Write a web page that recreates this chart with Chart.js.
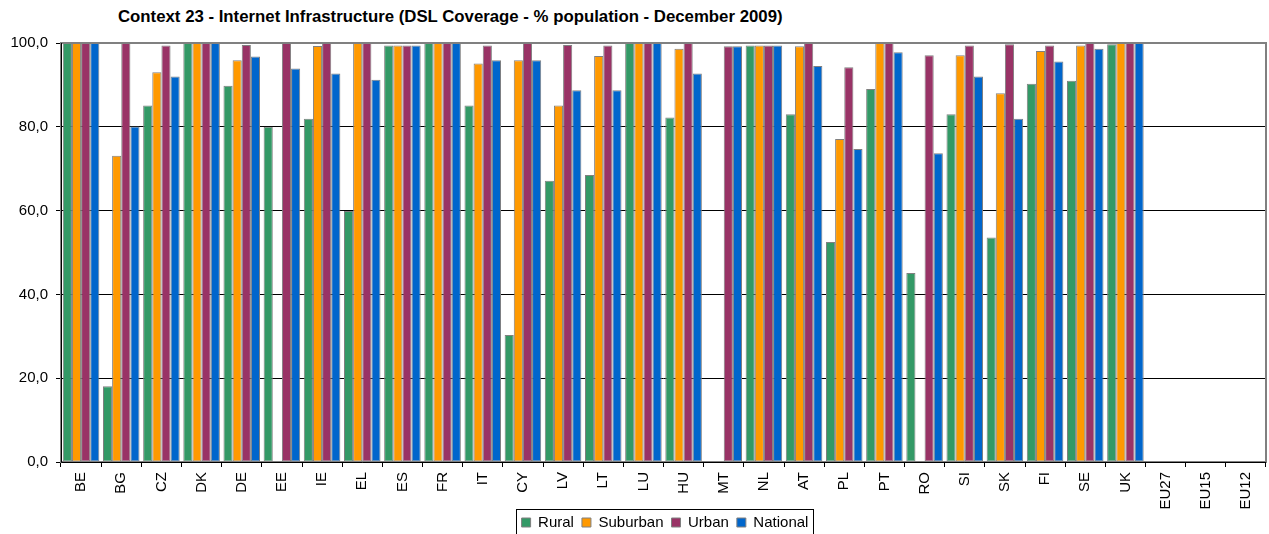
<!DOCTYPE html>
<html>
<head>
<meta charset="utf-8">
<script src="https://cdn.jsdelivr.net/npm/chart.js@4/dist/chart.umd.min.js"></script>
<style>
    html, body { margin: 0; padding: 0; background: #fff; }
    #wrap { position: relative; width: 1269px; height: 534px; }
    #title {
        position: absolute; left: 118px; top: 7px; white-space: nowrap;
        font: bold 16.8px "Liberation Sans", Arial, sans-serif; color: #000;
    }
    canvas { position: absolute; left: 0; top: 0; }
</style>
</head>
<body>
<div id="wrap">
    <div id="title">Context 23 - Internet Infrastructure (DSL Coverage - % population - December 2009)</div>
    <canvas id="dsl-chart" width="1269" height="534"></canvas>
</div>
<script>
// DSL coverage by country, % of population
const countries = ['BE', 'BG', 'CZ', 'DK', 'DE', 'EE', 'IE', 'EL', 'ES', 'FR', 'IT', 'CY', 'LV', 'LT', 'LU',
    'HU', 'MT', 'NL', 'AT', 'PL', 'PT', 'RO', 'SI', 'SK', 'FI', 'SE', 'UK', 'EU27', 'EU15', 'EU12'];

const rural    = [100, 18.1, 85.1, 100, 89.8, 80.0, 81.9, 59.9, 99.4, 100, 85.1, 30.3, 67.1, 68.5, 100,
    82.2, null, 99.4, 83.0, 52.5, 89.0, 45.1, 83.0, 53.6, 90.3, 91.0, 99.7, null, null, null];
const suburban = [100, 73.1, 93.0, 100, 95.9, null, 99.3, 100, 99.4, 100, 95.1, 95.9, 85.1, 96.9, 100,
    98.6, null, 99.4, 99.2, 77.1, 100, null, 97.1, 88.0, 98.1, 99.4, 100, null, null, null];
const urban    = [100, 100, 99.4, 100, 99.5, 100, 100, 100, 99.4, 100, 99.4, 100, 99.5, 99.4, 100,
    100, 99.2, 99.4, 100, 94.2, 100, 97.1, 99.4, 99.7, 99.4, 100, 100, null, null, null];
const national = [100, 80.1, 92.0, 100, 96.8, 93.9, 92.7, 91.2, 99.4, 100, 95.9, 95.9, 88.7, 88.7, 100,
    92.7, 99.2, 99.4, 94.5, 74.7, 97.8, 73.7, 92.0, 81.9, 95.6, 98.6, 100, null, null, null];

const yTicks = [0, 20, 40, 60, 80, 100];
const FONT = '"Liberation Sans", Arial, sans-serif';

// grey frame round the plot area, dark left/bottom axis, box round the legend
const framePlugin = {
    id: 'frame',
    afterLayout(chart) {
        // nudge the legend: its padding also sets the gap between items
        const lg = chart.legend;
        if (lg) {
            lg.top -= 2; lg.bottom -= 2;
            lg.left += 32; lg.right += 32;
        }
    },
    afterDatasetsDraw(chart) {
        const { ctx, chartArea: a } = chart;
        ctx.save();
        ctx.strokeStyle = '#808080';
        ctx.lineWidth = 2;
        ctx.strokeRect(a.left, a.top, a.right - a.left, a.bottom - a.top);
        ctx.strokeStyle = '#000';
        ctx.lineWidth = 1;
        ctx.beginPath();
        ctx.moveTo(a.left + 0.5, a.top);
        ctx.lineTo(a.left + 0.5, a.bottom + 0.5);
        ctx.lineTo(a.right, a.bottom + 0.5);
        ctx.stroke();
        ctx.restore();
    },
    afterDraw(chart) {
        const boxes = chart.legend && chart.legend.legendHitBoxes;
        if (!boxes || !boxes.length) return;
        const ctx = chart.ctx;
        const left = Math.min(...boxes.map(b => b.left)) - 6;
        const right = Math.max(...boxes.map(b => b.left + b.width)) + 4;
        const top = Math.min(...boxes.map(b => b.top)) - 6;
        const bottom = Math.max(...boxes.map(b => b.top + b.height)) + 5;
        ctx.save();
        ctx.strokeStyle = '#000';
        ctx.lineWidth = 1;
        ctx.strokeRect(Math.round(left) + 0.5, Math.round(top) + 0.5, Math.round(right - left), Math.round(bottom - top));
        ctx.restore();
    }
};

const mkSet = (label, data, color) => ({
    label, data,
    backgroundColor: color,
    borderColor: '#808080',
    borderWidth: 1,
    borderSkipped: false,
    categoryPercentage: 0.91,
    barPercentage: 1.0
});

new Chart(document.getElementById('dsl-chart'), {
    type: 'bar',
    data: {
        labels: countries,
        datasets: [
            mkSet('Rural', rural, '#339966'),
            mkSet('Suburban', suburban, '#FF9900'),
            mkSet('Urban', urban, '#993366'),
            mkSet('National', national, '#0066CC')
        ]
    },
    options: {
        responsive: false,
        animation: false,
        layout: { padding: { top: 43, right: 3, left: 0, bottom: -8 } },
        plugins: {
            legend: {
                position: 'bottom',
                labels: {
                    font: { family: FONT, size: 15 },
                    color: '#000',
                    boxWidth: 9,
                    boxHeight: 9,
                    padding: 8
                }
            },
            tooltip: { enabled: false }
        },
        scales: {
            x: {
                grid: { display: true, drawOnChartArea: false, color: '#000', tickLength: 5, offset: true },
                border: { display: false },
                ticks: {
                    font: { family: FONT, size: 15 },
                    color: '#000',
                    minRotation: 90,
                    maxRotation: 90,
                    autoSkip: false,
                    padding: 5
                },
                afterFit: s => { s.height = 47; }
            },
            y: {
                min: 0,
                max: 100,
                afterBuildTicks: s => { s.ticks = yTicks.map(v => ({ value: v })); },
                grid: { color: '#000', tickLength: 5 },
                border: { display: false },
                ticks: {
                    font: { family: FONT, size: 15 },
                    color: '#000',
                    padding: 8,
                    callback: v => v.toFixed(1).replace('.', ',')
                },
                afterFit: s => { s.width = 61; }
            }
        }
    },
    plugins: [framePlugin]
});
</script>
</body>
</html>
